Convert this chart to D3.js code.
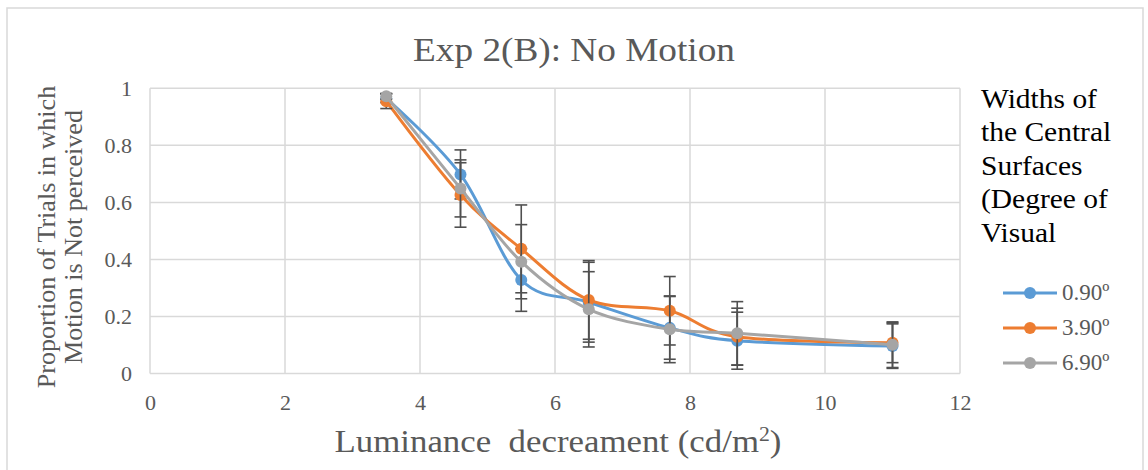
<!DOCTYPE html>
<html>
<head>
<meta charset="utf-8">
<script src="https://cdn.jsdelivr.net/npm/d3@7"></script>
<style>
  body { margin: 0; background: #fff; }
  text { font-family: "Liberation Serif", "Times New Roman", serif; }
</style>
</head>
<body>
<script>
// luminance decrement (cd/m2)
var xVals = [3.5, 4.6, 5.5, 6.5, 7.7, 8.7, 11];
var seriesNames = ['0.90º', '3.90º', '6.90º'];
var vals090 = [0.965, 0.698, 0.328, 0.25, 0.16, 0.115, 0.096];
var vals390 = [0.955, 0.626, 0.437, 0.258, 0.22, 0.129, 0.108];
var vals690 = [0.972, 0.649, 0.392, 0.225, 0.155, 0.141, 0.101];
var err090 = [0.015, 0.086, 0.11, 0.14, 0.11, 0.10, 0.078];
var err390 = [0.026, 0.113, 0.154, 0.138, 0.12, 0.10, 0.07];
var err690 = [0.01, 0.10, 0.13, 0.132, 0.117, 0.111, 0.08];
var xTicks = [0, 2, 4, 6, 8, 10, 12];
var yTicks = [0, 0.2, 0.4, 0.6, 0.8, 1];
var legendTitle = ['Widths of', 'the Central', 'Surfaces', '(Degree of', 'Visual'];

var colors = ['#5b9bd5', '#ed7d31', '#a5a5a5'];
var series = [
  { name: seriesNames[0], vals: vals090, err: err090, color: colors[0] },
  { name: seriesNames[1], vals: vals390, err: err390, color: colors[1] },
  { name: seriesNames[2], vals: vals690, err: err690, color: colors[2] }
];

var svgWidth = 1148, svgHeight = 470;
var svg = d3.select('body').append('svg')
  .attr('width', svgWidth).attr('height', svgHeight);

// the reference text is a bit wider than the font, so stretch it horizontally
function stretch(sel, base, target) {
  var w = sel.node().getBBox().width;
  sel.attr('transform', base + ' scale(' + (target / w) + ',1)');
}

// chart frame
svg.append('rect')
  .attr('x', 7).attr('y', 8).attr('width', 1136).attr('height', 480)
  .attr('fill', '#fff').attr('stroke', '#d9d9d9').attr('stroke-width', 1.5);

var x = d3.scaleLinear().domain([0, 12]).range([150, 960]);
var y = d3.scaleLinear().domain([0, 1]).range([373.5, 88.3]);

// gridlines
svg.append('g').selectAll('line.h').data(yTicks).enter().append('line')
  .attr('x1', x(0)).attr('x2', x(12))
  .attr('y1', function (d) { return y(d); }).attr('y2', function (d) { return y(d); })
  .attr('stroke', '#d9d9d9').attr('stroke-width', 1.5);
svg.append('g').selectAll('line.v').data(xTicks).enter().append('line')
  .attr('y1', y(0)).attr('y2', y(1))
  .attr('x1', function (d) { return x(d); }).attr('x2', function (d) { return x(d); })
  .attr('stroke', '#d9d9d9').attr('stroke-width', 1.5);

// axes
var xAxis = svg.append('g').attr('transform', 'translate(0,' + y(0) + ')')
  .call(d3.axisBottom(x).tickValues(xTicks).tickSize(0).tickPadding(21));
var yAxis = svg.append('g').attr('transform', 'translate(' + x(0) + ',0)')
  .call(d3.axisLeft(y).tickValues(yTicks).tickSize(0).tickPadding(18)
    .tickFormat(function (d) { return d3.format('')(d); }));
[xAxis, yAxis].forEach(function (a) {
  a.select('.domain').remove();
  a.selectAll('text')
    .style('font-family', '"Liberation Serif", serif')
    .style('font-size', '22px').attr('fill', '#595959');
});

// series
var line = d3.line()
  .x(function (d) { return x(d[0]); })
  .y(function (d) { return y(d[1]); })
  .curve(d3.curveCardinal.tension(0));

series.forEach(function (s) {
  var pts = xVals.map(function (xv, i) { return [xv, s.vals[i], s.err[i]]; });
  var g = svg.append('g');
  g.append('path').datum(pts)
    .attr('d', line).attr('fill', 'none')
    .attr('stroke', s.color).attr('stroke-width', 3)
    .attr('stroke-linejoin', 'round').attr('stroke-linecap', 'round');

  var eb = g.selectAll('g.err').data(pts).enter().append('g')
    .attr('stroke', '#505050').attr('stroke-width', 1.6);
  eb.append('line')
    .attr('x1', function (d) { return x(d[0]); }).attr('x2', function (d) { return x(d[0]); })
    .attr('y1', function (d) { return y(d[1] + d[2]); })
    .attr('y2', function (d) { return y(d[1] - d[2]); });
  [1, -1].forEach(function (sgn) {
    eb.append('line')
      .attr('x1', function (d) { return x(d[0]) - 6; }).attr('x2', function (d) { return x(d[0]) + 6; })
      .attr('y1', function (d) { return y(d[1] + sgn * d[2]); })
      .attr('y2', function (d) { return y(d[1] + sgn * d[2]); });
  });

  g.selectAll('circle').data(pts).enter().append('circle')
    .attr('cx', function (d) { return x(d[0]); })
    .attr('cy', function (d) { return y(d[1]); })
    .attr('r', 6).attr('fill', s.color);
});

// title
var title = svg.append('text')
  .attr('x', 0).attr('y', 0).attr('text-anchor', 'middle')
  .style('font-size', '33px').attr('fill', '#595959')
  .text('Exp 2(B): No Motion');
stretch(title, 'translate(574,61)', 322);

// y axis title
var yt = svg.append('text')
  .attr('text-anchor', 'middle')
  .style('font-size', '25px').attr('fill', '#595959');
yt.append('tspan').attr('x', 0).attr('y', 55).text('Proportion of Trials in which');
yt.append('tspan').attr('x', 0).attr('y', 82).text('Motion is Not perceived');
stretch(yt, 'translate(0,237) rotate(-90)', 303);

// x axis title
var xt = svg.append('text')
  .attr('x', 0).attr('y', 0).attr('text-anchor', 'middle')
  .style('font-size', '32px').style('white-space', 'pre').attr('fill', '#595959');
xt.append('tspan').text('Luminance  decreament (cd/m');
xt.append('tspan').attr('baseline-shift', 'super').style('font-size', '20px').text('2');
xt.append('tspan').text(')');
stretch(xt, 'translate(558,452)', 447);

// legend
var lt = svg.append('text').style('font-size', '27px').attr('fill', '#000');
lt.selectAll('tspan').data(legendTitle).enter().append('tspan')
  .attr('x', 0).attr('y', function (d, i) { return 108 + i * 33.5; })
  .text(function (d) { return d; });
var firstW = lt.select('tspan').node().getComputedTextLength();
lt.attr('transform', 'translate(981,0) scale(' + (116 / firstW) + ',1)');

var lg = svg.selectAll('g.legend').data(series).enter().append('g')
  .attr('transform', function (d, i) { return 'translate(1003,' + (293 + i * 35) + ')'; });
lg.append('line').attr('x1', 0).attr('x2', 54)
  .attr('stroke', function (d) { return d.color; }).attr('stroke-width', 3);
lg.append('circle').attr('cx', 27).attr('r', 6)
  .attr('fill', function (d) { return d.color; });
lg.append('text').attr('x', 59).attr('y', 7)
  .style('font-size', '23px').attr('fill', '#595959')
  .text(function (d) { return d.name; });
</script>
</body>
</html>
